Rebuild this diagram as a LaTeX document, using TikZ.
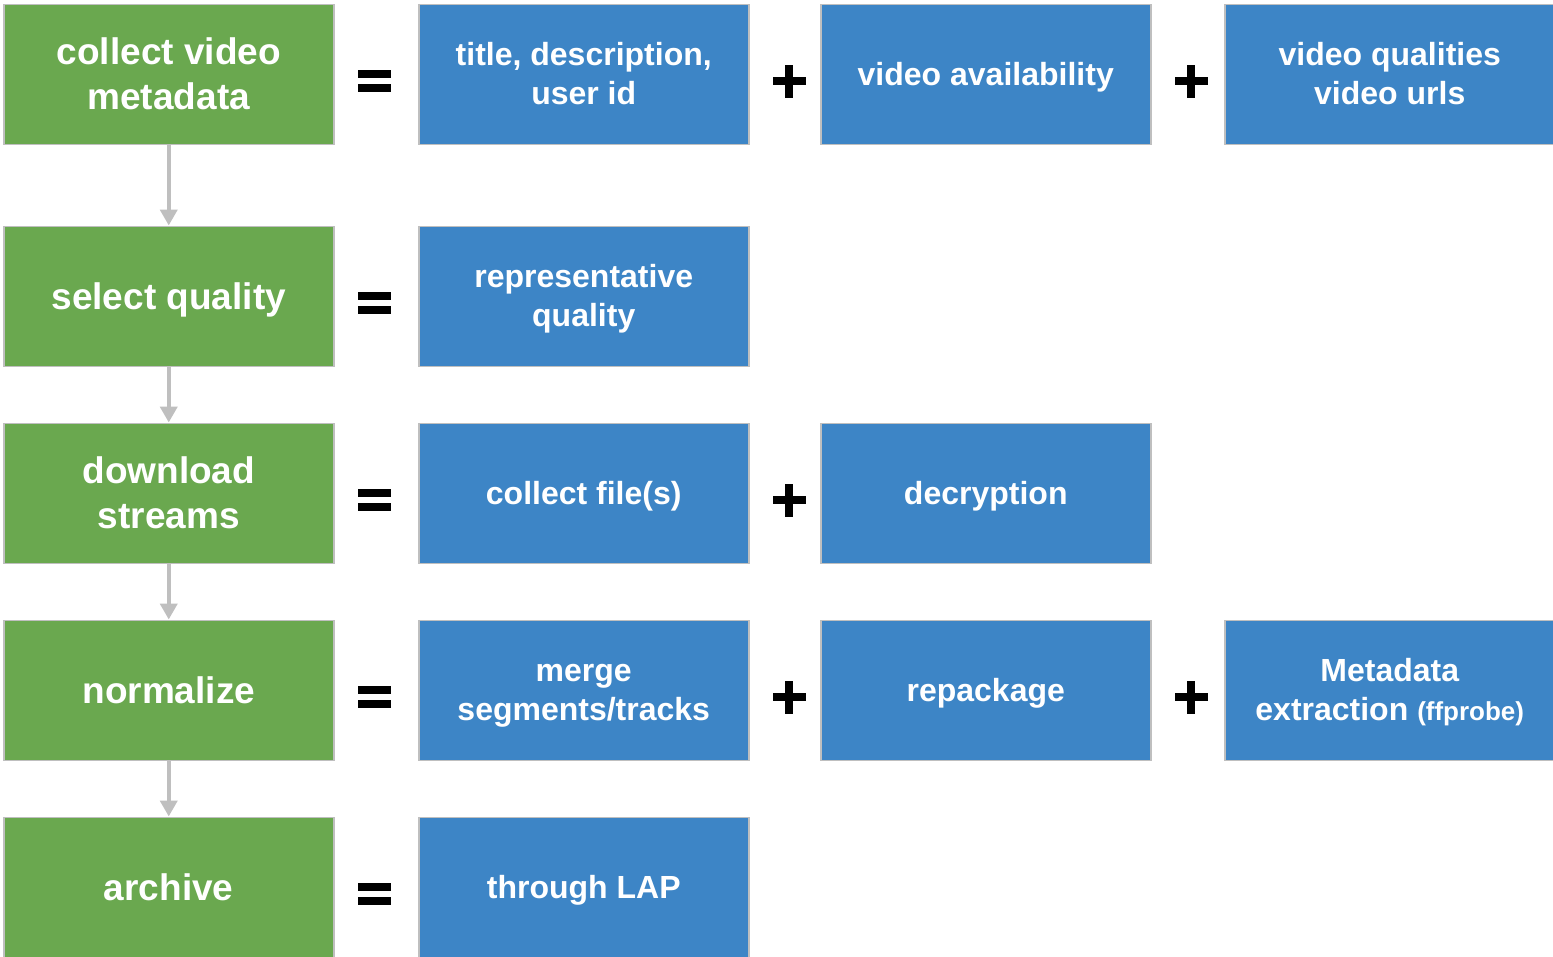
\documentclass[tikz,border=0pt]{standalone}
\usepackage{fontspec}
\setmainfont{Liberation Sans}
\usetikzlibrary{arrows.meta}
\definecolor{grn}{HTML}{6AA84F}
\definecolor{blu}{HTML}{3D85C6}
\definecolor{edgegray}{HTML}{BFBFBF}
\newcommand\mystrut{\rule[-0.212em]{0pt}{1.117em}}
\newcommand\myeqsign[1]{%
  \fill[black] (358,#1-11) rectangle (391,#1-3);
  \fill[black] (358,#1+3) rectangle (391,#1+11);}
\newcommand\myplussign[2]{%
  \fill[black] (#1-16.5,#2-4) rectangle (#1+16.5,#2+4);
  \fill[black] (#1-4,#2-16.5) rectangle (#1+4,#2+16.5);}
\tikzset{
  box/.style={draw=edgegray, line width=1.5pt, minimum width=330pt, minimum height=140pt,
    inner sep=0pt, text=white, align=center, anchor=north west},
  gbox/.style={box, fill=grn, font=\fontsize{37}{45}\selectfont\bfseries},
  bbox/.style={box, fill=blu, font=\fontsize{32}{39}\selectfont\bfseries},
  flow/.style={draw=edgegray, line width=4pt, -{Triangle[width=17pt,length=16pt]}},
}
\begin{document}
\begin{tikzpicture}[x=1pt,y=-1pt]
\useasboundingbox (0,0) rectangle (1553,956);
% green column
\node[gbox] (g1) at (3,3.5) {\mystrut collect video\\\mystrut metadata};
\node[gbox] (g2) at (3,225.5) {\mystrut select quality};
\node[gbox] (g3) at (3,422.5) {\mystrut download\\\mystrut streams};
\node[gbox] (g4) at (3,619.5) {\mystrut normalize};
\node[gbox] (g5) at (3,816.5) {\mystrut archive};
% blue boxes
\node[bbox] (b11) at (418,3.5) {\mystrut title, description,\\\mystrut user id};
\node[bbox] (b12) at (820,3.5) {\mystrut video availability};
\node[bbox] (b13) at (1224,3.5) {\mystrut video qualities\\\mystrut video urls};
\node[bbox] (b21) at (418,225.5) {\mystrut representative\\\mystrut quality};
\node[bbox] (b31) at (418,422.5) {\mystrut collect file(s)};
\node[bbox] (b32) at (820,422.5) {\mystrut decryption};
\node[bbox] (b41) at (418,619.5) {\mystrut merge\\\mystrut segments/tracks};
\node[bbox] (b42) at (820,619.5) {\mystrut repackage};
\node[bbox] (b43) at (1224,619.5) {\mystrut Metadata\\\mystrut extraction {\fontsize{26}{39}\selectfont(ffprobe)}};
\node[bbox] (b51) at (418,816.5) {\mystrut through LAP};
% arrows
\draw[flow] (g1) -- (g2);
\draw[flow] (g2) -- (g3);
\draw[flow] (g3) -- (g4);
\draw[flow] (g4) -- (g5);
% symbols
\myeqsign{81}
\myeqsign{303}
\myeqsign{500}
\myeqsign{697}
\myeqsign{894}
\myplussign{789}{81}
\myplussign{1191}{81}
\myplussign{789}{500}
\myplussign{789}{697}
\myplussign{1191}{697}
\end{tikzpicture}
\end{document}
